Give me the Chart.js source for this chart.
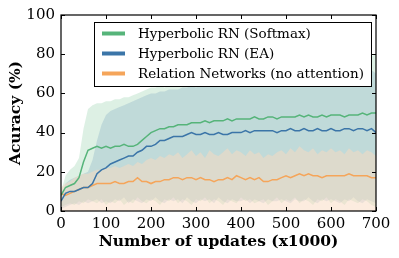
<!DOCTYPE html>
<html><head><meta charset="utf-8">
<script src="https://cdn.jsdelivr.net/npm/chart.js@4/dist/chart.umd.min.js"></script>
<style>html,body{margin:0;padding:0;background:#fff;}#wrap{width:399px;height:258px;}</style>
</head><body><div id="wrap"><canvas id="c" width="399" height="258"></canvas></div>
<script>
const updates = [0,10,20,30,40,50,60,70,80,90,100,110,120,130,140,150,160,170,180,190,200,210,220,230,240,250,260,270,280,290,300,310,320,330,340,350,360,370,380,390,400,410,420,430,440,450,460,470,480,490,500,510,520,530,540,550,560,570,580,590,600,610,620,630,640,650,660,670,680,690,700];
const seriesNames = ['Hyperbolic RN (Softmax)','Hyperbolic RN (EA)','Relation Networks (no attention)'];
const xTicks = [0,100,200,300,400,500,600,700];
const yTicks = [0,20,40,60,80,100];

const greenMean = [8,12,13,14,17,25,31,32,33,32, 33,32,33,33,34,33,33,34,36,38, 40,41,42,42,43,43,44,44,44,45, 45,45,46,45,46,46,46,47,46,47, 47,47,47,48,47,47,48,48,47,48, 48,48,48,49,48,49,48,48,49,48, 49,49,49,48,49,49,49,50,49,50, 50];
const blueMean = [5,9,10,10,11,12,12,14,19,21, 22,24,25,26,27,28,28,30,31,33, 33,34,36,36,37,38,38,38,39,40, 39,39,40,39,39,40,39,39,40,40, 40,41,40,41,41,41,41,41,40,41, 41,42,41,41,42,41,41,42,41,41, 42,41,41,42,42,41,42,42,41,42, 40];
const orangeMean = [9,8,9,10,11,12,12,13,14,14, 14,14,15,14,14,15,15,17,15,15, 14,15,15,16,16,17,17,16,17,17, 16,17,16,16,15,16,16,17,16,18, 17,16,17,16,17,15,15,16,16,17, 18,17,18,19,18,19,18,18,17,18, 18,18,18,18,19,18,18,18,18,17, 17];

const greenUpper = [10,18,21,23,27,42,52,54,55,55, 56,56,57,57,58,58,59,60,61,62, 63,63,64,63,64,64,65,65,64,66, 66,67,66,67,68,67,68,69,68,69, 70,69,70,71,70,71,72,71,72,73, 73,72,74,73,74,75,74,75,76,75, 76,77,76,77,78,77,78,79,78,79, 80];
const greenLower = [2,3,4,3,5,4,6,5,4,6, 3,5,4,6,3,5,4,7,5,4, 6,5,3,6,5,7,4,6,5,3, 6,5,7,4,6,5,3,6,5,4, 7,5,6,4,5,6,3,5,7,4, 6,5,7,4,6,5,3,6,5,7, 4,6,5,3,6,5,4,6,5,3, 2];
const blueUpper = [8,14,16,17,18,19,20,26,36,44, 49,51,52,53,54,55,56,57,58,59, 60,60,61,61,62,62,62,63,63,64, 63,64,64,65,64,65,65,66,65,66, 66,67,66,67,67,68,67,68,68,69, 68,69,69,70,69,70,70,69,70,71, 70,71,70,71,71,72,71,72,71,72, 70];
const blueLower = [1,2,3,4,3,5,4,5,6,4, 5,4,6,5,7,4,6,5,4,6, 5,7,5,4,6,5,6,4,7,5, 4,6,5,6,4,7,5,4,6,5, 5,6,4,6,5,4,6,5,5,6, 5,4,6,5,5,7,5,4,6,5, 6,5,4,6,5,7,5,4,6,5, 4];
const orangeUpper = [12,14,15,17,18,19,19,20,21,21, 22,22,23,22,23,24,23,25,24,26, 27,26,28,27,29,28,30,27,29,31, 28,30,27,31,29,28,30,32,29,31, 30,28,31,29,30,27,29,28,30,31, 29,32,30,33,31,30,32,29,31,30, 32,30,31,29,32,30,31,29,31,30, 28];

const GREEN = '#56b47a', BLUE = '#3b75a8', ORANGE = '#f5a55a';
const GREEN_FILL = 'rgba(86,180,122,0.2)', BLUE_FILL = 'rgba(59,117,168,0.18)', ORANGE_FILL = 'rgba(249,217,192,0.5)';
const FONT = '"DejaVu Serif", "Liberation Serif", serif';

const pts = ys => updates.map((x, i) => ({x: x, y: ys[i]}));
const lineDs = (label, ys, color) => ({label, data: pts(ys), borderColor: color, backgroundColor: color, borderWidth: 1.5, pointRadius: 0, fill: false, tension: 0, order: 0});
const bandDs = (label, ys, fill, color, order) => ({label, data: pts(ys), borderWidth: 0, borderColor: 'rgba(0,0,0,0)', backgroundColor: color, pointRadius: 0, fill, tension: 0, order});

const datasets = [
  lineDs(seriesNames[0], greenMean, GREEN),
  lineDs(seriesNames[1], blueMean, BLUE),
  lineDs(seriesNames[2], orangeMean, ORANGE),
  bandDs('_gU', greenUpper, 4, GREEN_FILL, 3),
  bandDs('_gL', greenLower, false, GREEN_FILL, 3),
  bandDs('_bU', blueUpper, 6, BLUE_FILL, 2),
  bandDs('_bL', blueLower, false, BLUE_FILL, 2),
  bandDs('_oU', orangeUpper, 'origin', ORANGE_FILL, 1)
];

const decor = {
  id: 'decor',
  afterDraw(chart) {
    const ctx = chart.ctx, ca = chart.chartArea;
    const xs = chart.scales.x, ys = chart.scales.y;
    ctx.save();
    ctx.strokeStyle = '#000';
    ctx.lineWidth = 1.2;
    ctx.strokeRect(ca.left, ca.top, ca.right - ca.left, ca.bottom - ca.top);
    ctx.lineWidth = 1;
    const TL = 4;
    ctx.beginPath();
    xTicks.forEach(v => {
      const px = Math.round(xs.getPixelForValue(v)) + 0.5;
      ctx.moveTo(px, ca.bottom); ctx.lineTo(px, ca.bottom - TL);
      ctx.moveTo(px, ca.top); ctx.lineTo(px, ca.top + TL);
    });
    yTicks.forEach(v => {
      const py = Math.round(ys.getPixelForValue(v)) + 0.5;
      ctx.moveTo(ca.left, py); ctx.lineTo(ca.left + TL, py);
      ctx.moveTo(ca.right, py); ctx.lineTo(ca.right - TL, py);
    });
    ctx.stroke();
    // legend
    const bx = ca.left + 33, by = ca.top + 7, bw = ca.right - 5 - bx, bh = 64;
    ctx.fillStyle = '#fff';
    ctx.fillRect(bx, by, bw, bh);
    ctx.strokeStyle = '#000';
    ctx.lineWidth = 1;
    ctx.strokeRect(bx + 0.5, by + 0.5, bw, bh);
    const items = chart.data.datasets.filter(d => d.label.charAt(0) !== '_');
    ctx.font = '13.5px ' + FONT;
    ctx.textBaseline = 'middle';
    items.forEach((d, i) => {
      const y = by + 11.5 + i * 20;
      ctx.strokeStyle = d.borderColor;
      ctx.lineWidth = 4;
      ctx.lineCap = 'butt';
      ctx.beginPath(); ctx.moveTo(bx + 8, y); ctx.lineTo(bx + 31, y); ctx.stroke();
      ctx.fillStyle = '#000';
      ctx.fillText(d.label, bx + 44, y + 0.5);
    });
    ctx.restore();
  }
};

new Chart(document.getElementById('c'), {
  type: 'line',
  data: {datasets},
  options: {
    responsive: false,
    devicePixelRatio: 1,
    animation: false,
    events: [],
    layout: {padding: {top: 14, right: 23, left: 0, bottom: 0}, autoPadding: false},
    plugins: {legend: {display: false}, tooltip: {enabled: false}, filler: {propagate: false}},
    scales: {
      x: {
        type: 'linear', min: 0, max: 700,
        afterFit: s => { s.height = 47; },
        afterBuildTicks: s => { s.ticks = xTicks.map(v => ({value: v})); },
        grid: {display: false, drawTicks: false},
        border: {display: false},
        ticks: {padding: 4, color: '#000', font: {family: FONT, size: 15}, maxRotation: 0, autoSkip: false},
        title: {display: true, text: 'Number of updates (x1000)', color: '#000', font: {family: FONT, size: 15.5, weight: 'bold'}, padding: {top: 0, bottom: 7}}
      },
      y: {
        type: 'linear', min: 0, max: 100,
        afterFit: s => { s.width = 61; },
        afterBuildTicks: s => { s.ticks = yTicks.map(v => ({value: v})); },
        grid: {display: false, drawTicks: false},
        border: {display: false},
        ticks: {padding: 6, color: '#000', font: {family: FONT, size: 15}},
        title: {display: true, text: 'Acuracy (%)', color: '#000', font: {family: FONT, size: 15.5, weight: 'bold'}, padding: {top: 7, bottom: 0}}
      }
    }
  },
  plugins: [decor]
});
</script>
</body></html>
